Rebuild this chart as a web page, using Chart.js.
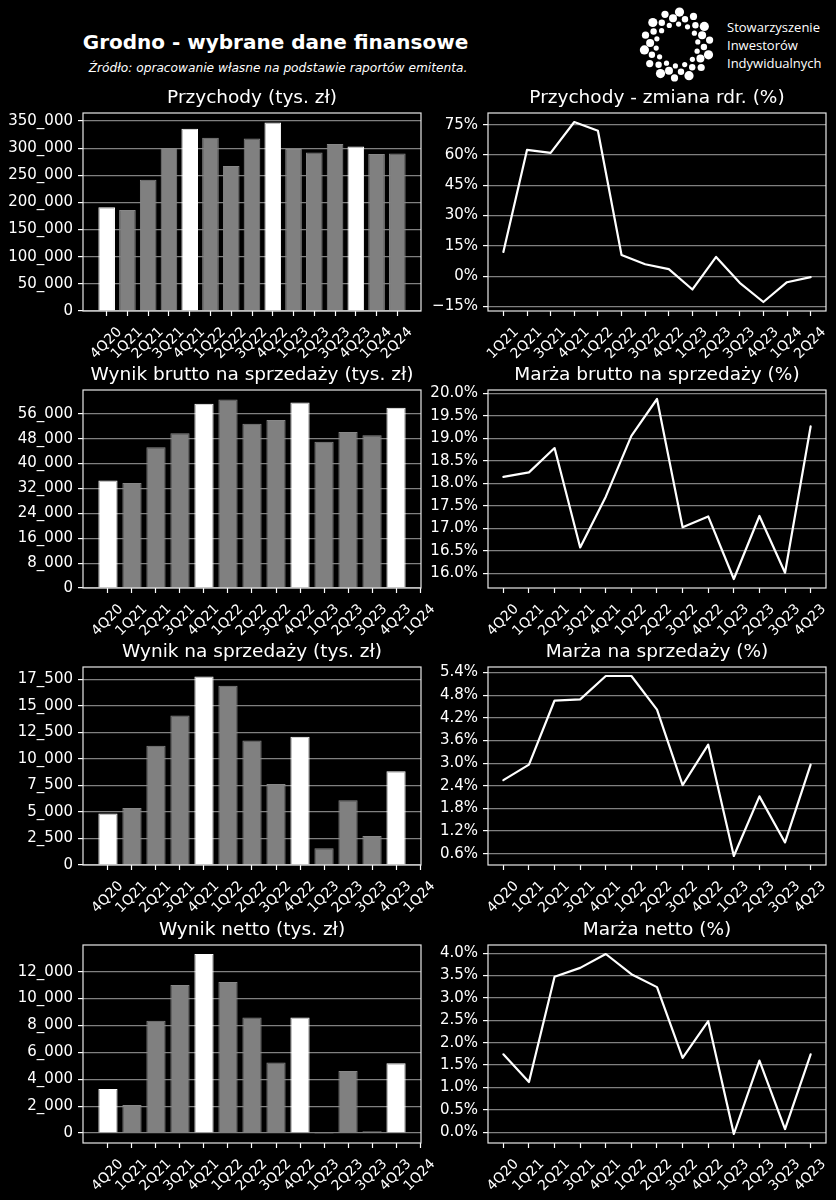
<!DOCTYPE html>
<html>
<head>
<meta charset="utf-8">
<script src="https://cdn.jsdelivr.net/npm/chart.js@4.4.1/dist/chart.umd.min.js"></script>
<style>
    body { margin: 0; width: 836px; height: 1200px; background: #000; position: relative; overflow: hidden; font-family: "DejaVu Sans", sans-serif; color: #fff; }
    #mainTitle { position: absolute; left: 0; width: 551px; top: 30px; line-height: 24px; font-size: 20px; font-weight: bold; text-align: center; }
    #subTitle { position: absolute; left: 0; width: 556px; top: 60px; line-height: 16px; font-size: 12.2px; font-style: italic; text-align: center; }
    #logo { position: absolute; left: 638px; top: 4px; }
    #logoText { position: absolute; left: 727px; top: 18px; font-family: "Open Sans", sans-serif; font-size: 13px; line-height: 18px; }
    canvas { position: absolute; }
</style>
</head>
<body>
<div id="mainTitle">Grodno - wybrane dane finansowe</div>
<div id="subTitle">Źródło: opracowanie własne na podstawie raportów emitenta.</div>
<svg id="logo" width="82" height="82"></svg>
<div id="logoText">Stowarzyszenie<br>Inwestorów<br>Indywidualnych</div>

<script>
// quarters
const quartersRevenue = ["4Q20", "1Q21", "2Q21", "3Q21", "4Q21", "1Q22", "2Q22", "3Q22", "4Q22", "1Q23", "2Q23", "3Q23", "4Q23", "1Q24", "2Q24"];
const quartersProfit = ["4Q20", "1Q21", "2Q21", "3Q21", "4Q21", "1Q22", "2Q22", "3Q22", "4Q22", "1Q23", "2Q23", "3Q23", "4Q23", "1Q24"];
const quartersYoy = ["1Q21", "2Q21", "3Q21", "4Q21", "1Q22", "2Q22", "3Q22", "4Q22", "1Q23", "2Q23", "3Q23", "4Q23", "1Q24", "2Q24"];
const quartersMargin = ["4Q20", "1Q21", "2Q21", "3Q21", "4Q21", "1Q22", "2Q22", "3Q22", "4Q22", "1Q23", "2Q23", "3Q23", "4Q23"];

// values (tys. zł / %)
const revenue = [191000, 186000, 242000, 300200, 335900, 319300, 267100, 318100, 347500, 298400, 292300, 307600, 303300, 289200, 290400];
const revenueYoy = [12.0, 62.5, 61.0, 76.3, 72.0, 10.5, 5.9, 3.5, -6.6, 9.5, -3.3, -12.8, -3.0, -0.5];
const grossProfit = [34520, 33770, 45210, 49700, 59210, 60600, 52800, 53970, 59630, 47020, 50120, 49050, 57920];
const grossMargin = [18.14, 18.24, 18.78, 16.57, 17.70, 19.05, 19.87, 17.02, 17.26, 15.87, 17.27, 16.01, 19.26];
const salesProfit = [4847, 5382, 11237, 14101, 17784, 16903, 11741, 7649, 12087, 1574, 6106, 2738, 8845];
const salesMargin = [2.55, 2.96, 4.66, 4.69, 5.31, 5.31, 4.42, 2.42, 3.49, 0.54, 2.12, 0.90, 2.96];
const netProfit = [3280, 2087, 8348, 11006, 13317, 11230, 8596, 5242, 8596, -75, 4621, 124, 5193];
const netMargin = [1.74, 1.12, 3.47, 3.67, 3.98, 3.53, 3.24, 1.66, 2.48, -0.04, 1.60, 0.07, 1.74];

// y tick steps
const stepRevenue = 50000, stepYoy = 15, stepGross = 8000, stepGrossMargin = 0.5;
const stepSales = 2500, stepSalesMargin = 0.6, stepNet = 2000, stepNetMargin = 0.5;

const FONT = "DejaVu Sans";
const tickFont = { family: FONT, size: 15 };
const xTickFont = { family: FONT, size: 14 };
const rowTops = [113, 390, 667, 945];

const framePlugin = {
    id: "frame",
    afterDraw(chart) {
        const { ctx, chartArea: a } = chart;
        ctx.save();
        ctx.strokeStyle = "#e8e8e8";
        ctx.lineWidth = 1.2;
        ctx.strokeRect(a.left, a.top, a.right - a.left, a.bottom - a.top);
        ctx.restore();
    }
};

function thousands(v) {
    const s = Math.round(Math.abs(v)).toString().replace(/\B(?=(\d{3})+(?!\d))/g, "_");
    return (v < 0 ? "\u2212" : "") + s;
}

function makeCanvas(col, row) {
    const c = document.createElement("canvas");
    const left = col === 0 ? 0 : 420;
    const width = col === 0 ? 440 : 416;
    c.width = width;
    c.height = 286;
    c.style.left = left + "px";
    c.style.top = (rowTops[row] - 26) + "px";
    document.body.appendChild(c);
    return c;
}

function baseOptions(col, title, labels, xMin, xMax, yMin, yMax, step, fmt, gridOnTop) {
    return {
        responsive: false,
        animation: false,
        devicePixelRatio: 1,
        layout: { padding: { left: 0, top: 0, bottom: 0, right: col === 0 ? 19 : 10 }, autoPadding: false },
        plugins: {
            legend: { display: false },
            tooltip: { enabled: false },
            title: {
                display: true,
                text: title,
                color: "#ffffff",
                fullSize: false,
                font: { family: FONT, size: 18.5, weight: "normal" },
                padding: { top: 0, bottom: 3.8 }
            }
        },
        scales: {
            x: {
                type: "linear",
                min: xMin,
                max: xMax,
                offset: false,
                afterBuildTicks: s => { s.ticks = labels.map((l, i) => ({ value: i })); },
                afterFit: s => { s.height = 62; },
                border: { display: false },
                grid: { offset: false, drawOnChartArea: false, drawTicks: true, tickLength: 5, tickColor: "#ffffff", tickWidth: 1.2 },
                ticks: {
                    autoSkip: false,
                    minRotation: 45,
                    maxRotation: 45,
                    color: "#ffffff",
                    font: xTickFont,
                    padding: 8,
                    labelOffset: 13,
                    callback: v => labels[v]
                }
            },
            y: {
                min: yMin,
                max: yMax,
                z: gridOnTop ? 1 : 0,
                afterBuildTicks: s => {
                    const t = [];
                    for (let k = Math.ceil(yMin / step - 1e-9); k * step <= yMax + 1e-9; k++) {
                        t.push({ value: +(k * step).toFixed(6) });
                    }
                    s.ticks = t;
                },
                afterFit: s => { s.width = col === 0 ? 83 : 68; },
                border: { display: false },
                grid: { color: "rgba(255,255,255,0.5)", lineWidth: 1.2, tickColor: "#ffffff", tickLength: 5, tickWidth: 1.2 },
                ticks: {
                    color: "#ffffff",
                    font: tickFont,
                    padding: 5,
                    callback: fmt
                }
            }
        }
    };
}

function barChart(col, row, title, labels, values, step) {
    const n = values.length;
    const span = n - 1 + 0.8;
    const lo = Math.min(0, ...values), hi = Math.max(0, ...values);
    const m = (hi - lo) * 0.05;
    const yMin = lo < 0 ? lo - m : 0;
    const yMax = hi + m;
    const opts = baseOptions(col, title, labels, -0.4 - 0.05 * span, n - 1 + 0.4 + 0.05 * span, yMin, yMax, step, v => thousands(v), true);
    return new Chart(makeCanvas(col, row), {
        type: "bar",
        data: {
            datasets: [{
                data: values.map((v, i) => ({ x: i, y: v })),
                backgroundColor: values.map((v, i) => labels[i].startsWith("4") ? "#ffffff" : "#808080"),
                borderColor: values.map((v, i) => labels[i].startsWith("4") ? "#ffffff" : "#888888"),
                borderWidth: 1,
                barPercentage: 0.8,
                categoryPercentage: 1
            }]
        },
        options: opts,
        plugins: [framePlugin]
    });
}

function lineChart(col, row, title, labels, values, step, fmt) {
    const n = values.length;
    const lo = Math.min(...values), hi = Math.max(...values);
    const m = (hi - lo) * 0.05;
    const opts = baseOptions(col, title, labels, -0.05 * (n - 1), (n - 1) * 1.05, lo - m, hi + m, step, fmt, false);
    return new Chart(makeCanvas(col, row), {
        type: "line",
        data: {
            datasets: [{
                data: values.map((v, i) => ({ x: i, y: v })),
                borderColor: "#ffffff",
                borderWidth: 2.2,
                borderJoinStyle: "round",
                borderCapStyle: "round",
                pointRadius: 0,
                tension: 0,
                fill: false
            }]
        },
        options: opts,
        plugins: [framePlugin]
    });
}

const pctInt = v => (v < 0 ? "\u2212" + Math.abs(Math.round(v)) : Math.round(v)) + "%";
const pct1 = v => (v < 0 ? "\u2212" : "") + Math.abs(v).toFixed(1) + "%";

barChart(0, 0, "Przychody (tys. zł)", quartersRevenue, revenue, stepRevenue);
lineChart(1, 0, "Przychody - zmiana rdr. (%)", quartersYoy, revenueYoy, stepYoy, pctInt);
barChart(0, 1, "Wynik brutto na sprzedaży (tys. zł)", quartersProfit, grossProfit, stepGross);
lineChart(1, 1, "Marża brutto na sprzedaży (%)", quartersMargin, grossMargin, stepGrossMargin, pct1);
barChart(0, 2, "Wynik na sprzedaży (tys. zł)", quartersProfit, salesProfit, stepSales);
lineChart(1, 2, "Marża na sprzedaży (%)", quartersMargin, salesMargin, stepSalesMargin, pct1);
barChart(0, 3, "Wynik netto (tys. zł)", quartersProfit, netProfit, stepNet);
lineChart(1, 3, "Marża netto (%)", quartersMargin, netMargin, stepNetMargin, pct1);

// logo: ring of dots
const svg = document.getElementById("logo");
const NS = "http://www.w3.org/2000/svg";
function dot(cx, cy, r) {
    const c = document.createElementNS(NS, "circle");
    c.setAttribute("cx", cx.toFixed(1));
    c.setAttribute("cy", cy.toFixed(1));
    c.setAttribute("r", r);
    c.setAttribute("fill", "#ffffff");
    svg.appendChild(c);
}
for (let k = 0; k < 14; k++) {
    const a = k / 14 * Math.PI * 2 + 0.3;
    dot(39 + Math.cos(a) * 33, 41 + Math.sin(a) * 33, k % 2 ? 3.6 : 4.6);
    const b = a + Math.PI / 14;
    dot(39 + Math.cos(b) * 27, 41 + Math.sin(b) * 27, k % 3 ? 3.2 : 4.0);
    dot(39 + Math.cos(a) * 21, 41 + Math.sin(a) * 21, 2.6);
}
</script>
</body>
</html>
